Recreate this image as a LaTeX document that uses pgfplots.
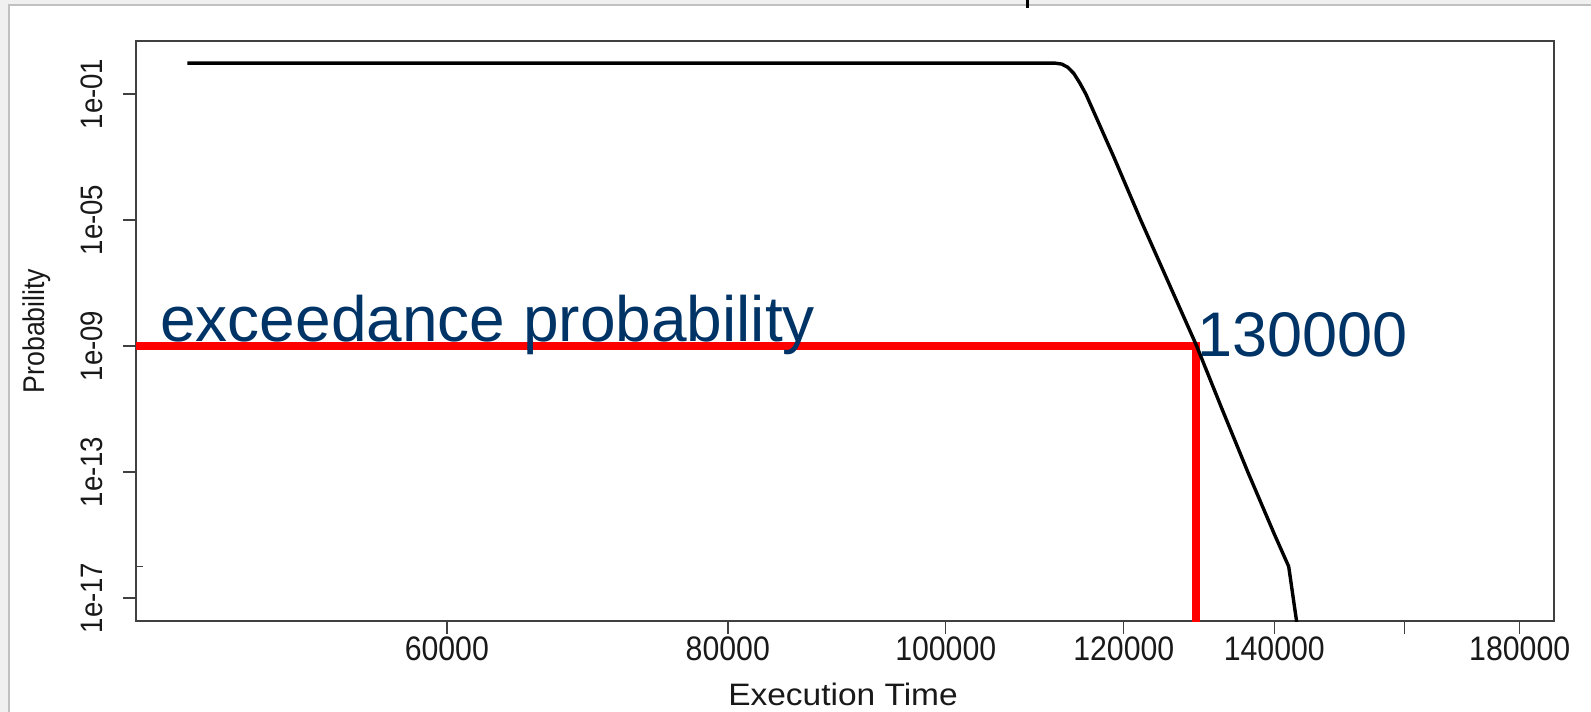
\documentclass[border=0pt]{standalone}
\usepackage{fontspec}
\setmainfont{Liberation Sans}
\newfontfamily\rfont[FakeStretch=0.89]{Liberation Sans}
\newfontfamily\rwide[FakeStretch=1.08]{Liberation Sans}
\usepackage{pgfplots}
\pgfplotsset{compat=1.18}
\definecolor{navy}{RGB}{0,51,102}
\definecolor{framegray}{RGB}{192,192,192}
\definecolor{outergray}{RGB}{240,240,240}

\begin{document}
\begin{tikzpicture}
% slide background and frame (1px = 0.5pt)
\fill[outergray] (-68pt,-45.5pt) rectangle (727.5pt,310.5pt);
\filldraw[fill=white, draw=framegray, line width=0.6pt] (-63.5pt,-47pt) rectangle (729pt,308pt);
\fill[black] (445pt,306.5pt) rectangle (446.5pt,310.5pt);

\begin{axis}[
  at={(0pt,0pt)}, anchor=south west,
  scale only axis,
  width=709pt, height=290pt,
  xmode=log, ymode=log,
  xmin=43650, xmax=186470,
  ymin=1.862e-18, ymax=4.82,
  axis line style={black!75, line width=0.9pt},
  xtick={60000,80000,100000,120000,140000,160000,180000},
  xticklabels={60000,80000,100000,120000,140000,,180000},
  ytick={1e-1,1e-5,1e-9,1e-13,1e-17},
  yticklabels={1e-01,1e-05,1e-09,1e-13,1e-17},
  minor xtick={}, minor ytick={},
  xtick pos=left, ytick pos=left,
  tick align=outside,
  major tick length=6.5pt,
  tick style={black!75, line width=0.7pt},
  xticklabel style={font=\rfont\fontsize{17}{20}\selectfont, text=black!90, inner sep=1pt},
  yticklabel style={font=\rfont\fontsize{15.5}{18}\selectfont, text=black!90, xshift=-8pt, rotate=90, anchor=south, inner sep=2pt},
  extra y ticks={1e-16},
  extra y tick labels={},
  extra y tick style={tick align=inside, major tick length=3.5pt},
]
% exceedance threshold
\addplot[red, line width=4pt, line join=miter] coordinates {
  (43650,1e-9) (129200,1e-9) (129200,1e-19)
};
% exceedance curve
\addplot[black, line width=1.7pt, line join=round] coordinates {
  (46000,0.96) (111800,0.96) (112620,0.891) (113310,0.708) (114020,0.447)
  (114720,0.224) (115430,0.1) (116260,0.0316) (118780,1e-3) (122100,1e-5)
  (125650,1e-7) (129300,1e-9) (132700,1e-11) (136250,1e-13) (140060,1e-15)
  (142080,1e-16) (143400,1e-18)
};
\end{axis}

\node[anchor=base west, text=navy, font=\fontsize{32}{36}\selectfont, inner sep=0pt] at (12pt,139.5pt) {exceedance probability};
\node[anchor=base west, text=navy, font=\fontsize{31.5}{36}\selectfont, inner sep=0pt] at (530.5pt,132pt) {130000};
\node[anchor=base, font=\rwide\fontsize{15.5}{18}\selectfont, text=black!90, inner sep=0pt] at (353.5pt,-42.5pt) {Execution Time};
\node[rotate=90, font=\rfont\fontsize{15}{18}\selectfont, text=black!90] at (-49.75pt,145pt) {Probability};

\pgfresetboundingbox
\path[use as bounding box] (-68pt,-45.5pt) rectangle (727.5pt,310.5pt);
\end{tikzpicture}
\end{document}
